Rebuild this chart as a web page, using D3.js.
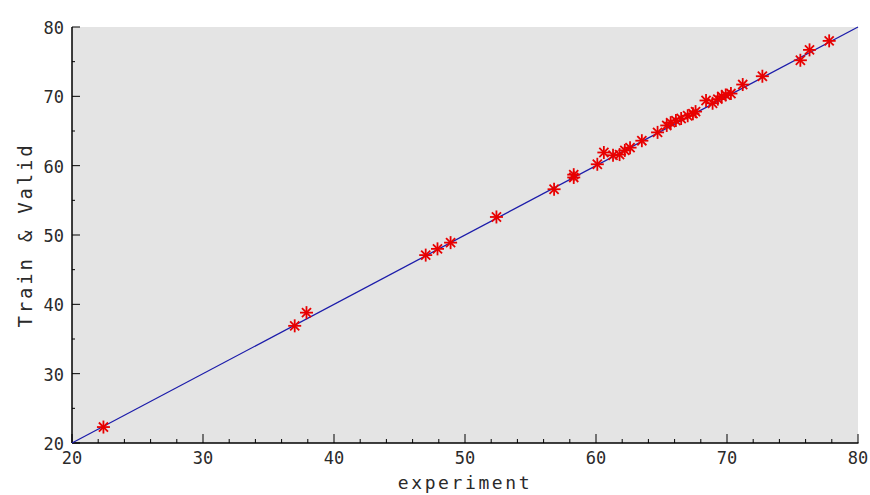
<!DOCTYPE html>
<html>
<head>
<meta charset="utf-8">
<script src="https://cdn.jsdelivr.net/npm/d3@7"></script>
<style>
  body { margin: 0; background: #fff; }
  svg text { font-family: "DejaVu Sans Mono", "Liberation Mono", monospace; fill: #2a2a2a; }
</style>
</head>
<body>
<svg id="chart" width="870" height="495"></svg>
<script>
// experiment vs predicted (train & valid)
const expVals = [22.4, 37.0, 37.9, 47.0, 47.9, 48.9, 52.4, 56.8, 58.3, 58.3, 60.1, 60.6,
  61.3, 61.8, 62.2, 62.6, 63.5, 64.7, 65.4, 65.7, 66.1, 66.5, 67.0, 67.4, 67.6,
  68.4, 68.9, 69.3, 69.6, 69.9, 70.3, 71.2, 72.7, 75.6, 76.3, 77.8];
const predVals = [22.3, 36.9, 38.8, 47.1, 48.0, 48.9, 52.6, 56.6, 58.3, 58.7, 60.2, 61.9,
  61.5, 61.6, 62.2, 62.6, 63.6, 64.8, 65.8, 66.2, 66.5, 66.8, 67.2, 67.5, 67.8,
  69.4, 69.0, 69.6, 70.0, 70.2, 70.4, 71.7, 72.9, 75.2, 76.7, 78.0];
const refLine = [20, 80];
const xTicks = [20, 30, 40, 50, 60, 70, 80];
const yTicks = [20, 30, 40, 50, 60, 70, 80];

const svg = d3.select('#chart');
const mL = 72, mR = 858, mT = 27, mB = 443;

const x = d3.scaleLinear().domain([20, 80]).range([mL, mR]);
const y = d3.scaleLinear().domain([20, 80]).range([mB, mT]);

svg.append('rect')
  .attr('x', mL).attr('y', mT)
  .attr('width', mR - mL).attr('height', mB - mT)
  .attr('fill', '#e4e4e4');

// minor ticks
const xMinor = d3.range(20, 80.01, 2);
const yMinor = d3.range(20, 80.01, 5);

const xAxis = svg.append('g').attr('transform', `translate(0,${mB})`);
xAxis.append('line').attr('x1', mL).attr('x2', mR + 0.5).attr('stroke', '#000').attr('stroke-width', 1.5);
xAxis.selectAll('.mn').data(xMinor).enter().append('line')
  .attr('x1', d => x(d)).attr('x2', d => x(d))
  .attr('y1', 0).attr('y2', d => xTicks.includes(d) ? -9 : -4)
  .attr('stroke', '#000');
xAxis.selectAll('text').data(xTicks).enter().append('text')
  .attr('x', d => x(d)).attr('y', 21)
  .attr('text-anchor', 'middle')
  .attr('font-size', 17)
  .text(d => d);

const yAxis = svg.append('g').attr('transform', `translate(${mL},0)`);
yAxis.append('line').attr('y1', mT).attr('y2', mB).attr('stroke', '#000').attr('stroke-width', 1.5);
yAxis.selectAll('.mn').data(yMinor).enter().append('line')
  .attr('y1', d => y(d)).attr('y2', d => y(d))
  .attr('x1', 0).attr('x2', d => yTicks.includes(d) ? 8 : 3)
  .attr('stroke', '#000');
yAxis.selectAll('text').data(yTicks).enter().append('text')
  .attr('x', -8).attr('y', d => y(d) + 7)
  .attr('text-anchor', 'end')
  .attr('font-size', 17)
  .text(d => d);

// y = x reference line
svg.append('line')
  .attr('x1', x(refLine[0])).attr('y1', y(refLine[0]))
  .attr('x2', x(refLine[1])).attr('y2', y(refLine[1]))
  .attr('stroke', '#1c1caa').attr('stroke-width', 1.3);

// asterisk markers
const r = 6.5;
const marks = svg.append('g').attr('stroke', '#e80000').attr('stroke-width', 1.8);
expVals.forEach((ex, i) => {
  const cx = x(ex), cy = y(predVals[i]);
  const g = marks.append('g').attr('transform', `translate(${cx},${cy})`);
  g.append('line').attr('x1', -r).attr('x2', r);
  g.append('line').attr('y1', -r).attr('y2', r);
  g.append('line').attr('x1', -r * 0.7).attr('y1', -r * 0.7).attr('x2', r * 0.7).attr('y2', r * 0.7);
  g.append('line').attr('x1', -r * 0.7).attr('y1', r * 0.7).attr('x2', r * 0.7).attr('y2', -r * 0.7);
});

svg.append('text')
  .attr('x', (mL + mR) / 2).attr('y', 489)
  .attr('text-anchor', 'middle')
  .attr('font-size', 18)
  .attr('letter-spacing', 2.6)
  .text('experiment');

svg.append('text')
  .attr('transform', `translate(32,${(mT + mB) / 2}) rotate(-90)`)
  .attr('text-anchor', 'middle')
  .attr('font-size', 19)
  .attr('letter-spacing', 2.8)
  .text('Train & Valid');
</script>
</body>
</html>
